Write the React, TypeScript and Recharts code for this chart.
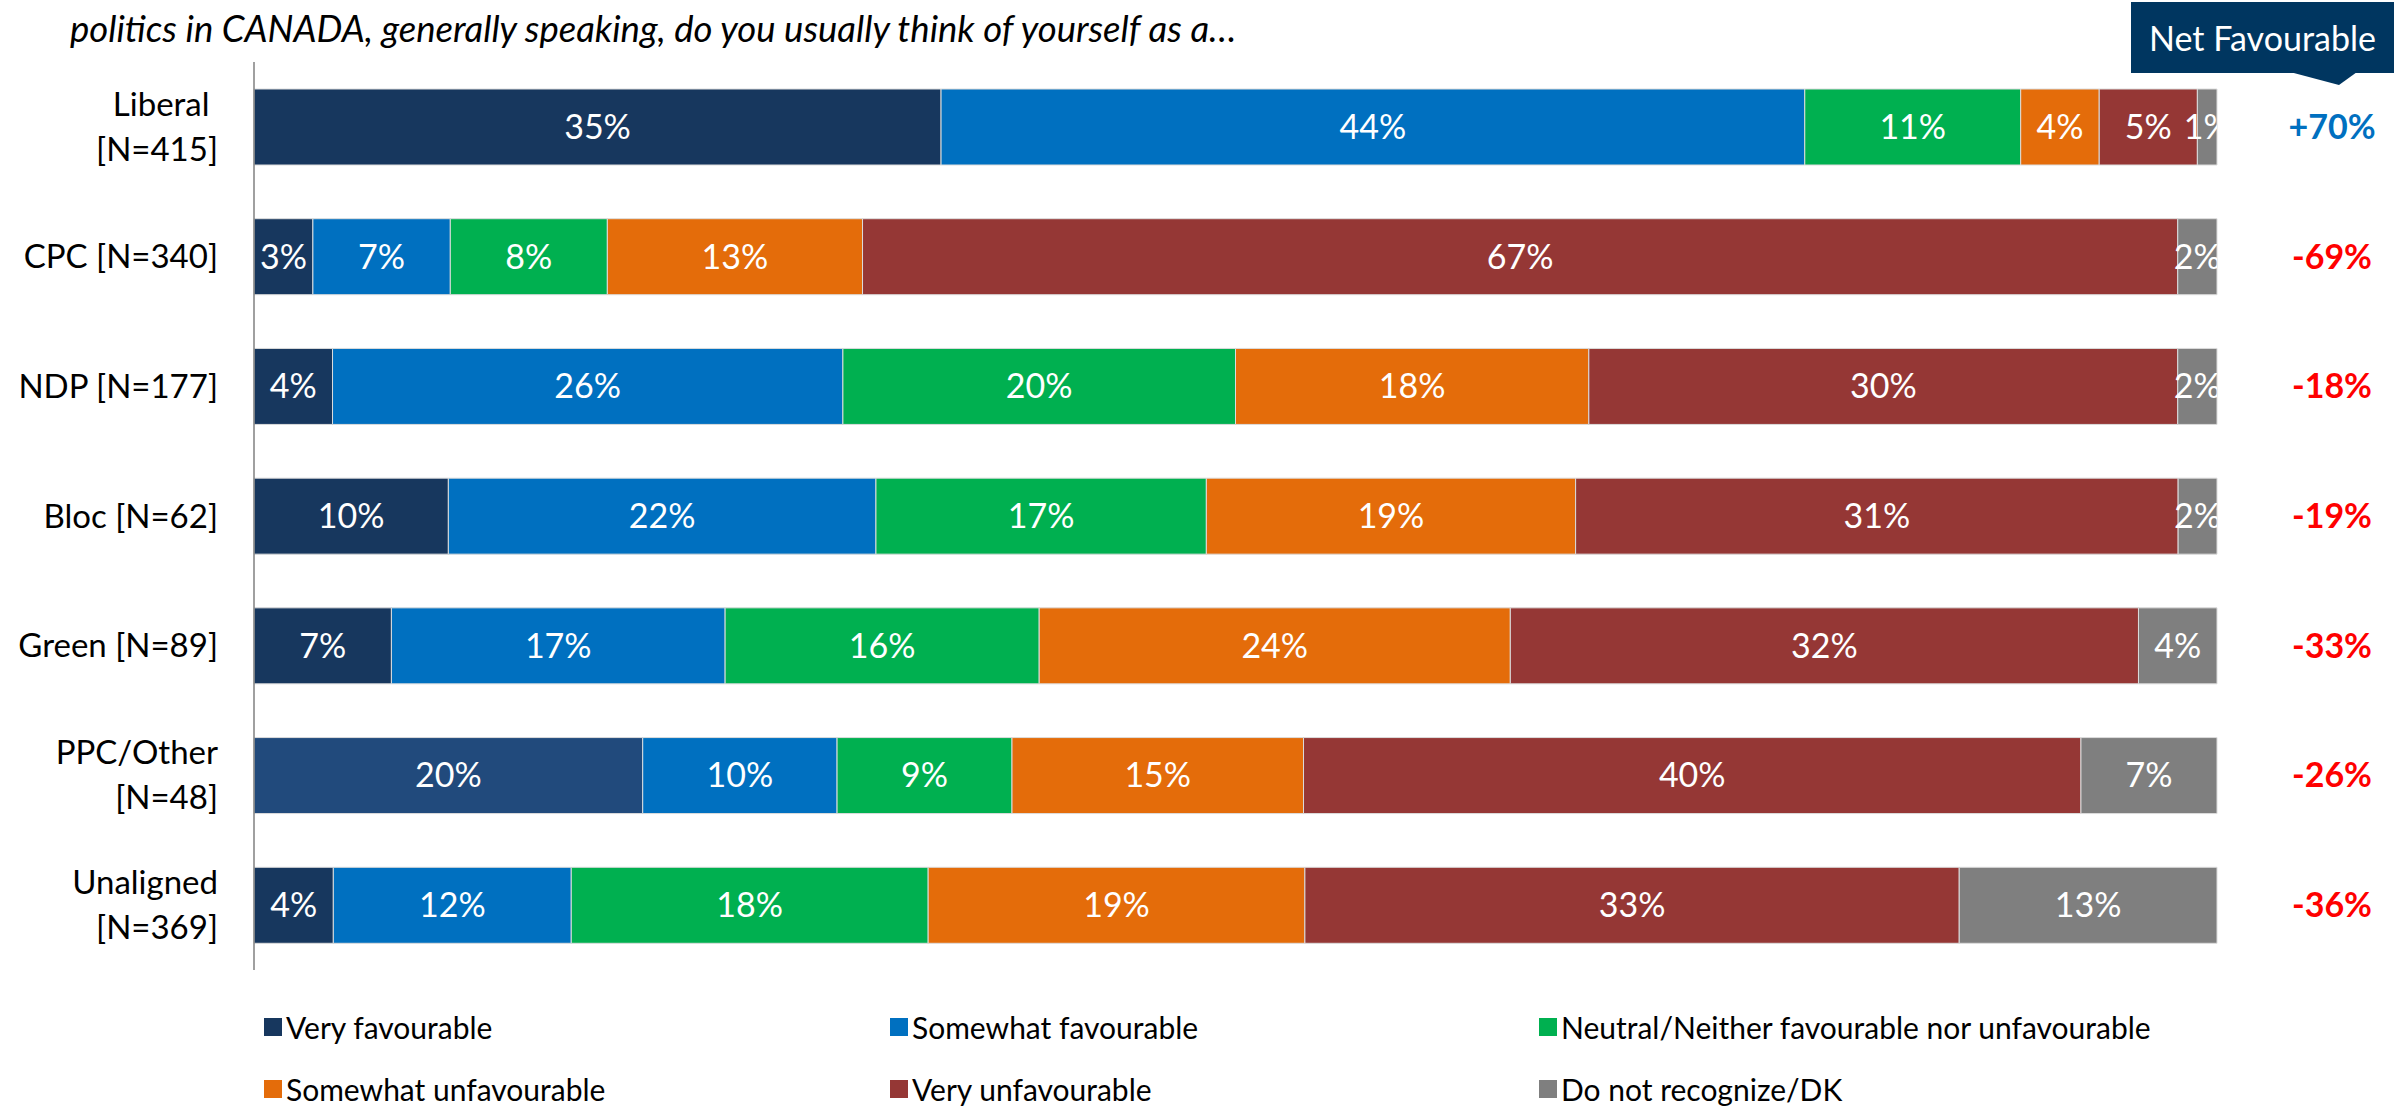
import React from 'react';
import { BarChart, Bar, XAxis, YAxis, LabelList, Cell, Legend } from 'recharts';

const categories = ['Liberal \n[N=415]', 'CPC [N=340]', 'NDP [N=177]', 'Bloc [N=62]', 'Green [N=89]', 'PPC/Other\n[N=48]', 'Unaligned\n[N=369]'];

const veryFav = [35, 3, 4, 10, 7, 20, 4];
const somewhatFav = [44, 7, 26, 22, 17, 10, 12];
const neutral = [11, 8, 20, 17, 16, 9, 18];
const somewhatUnfav = [4, 13, 18, 19, 24, 15, 19];
const veryUnfav = [5, 67, 30, 31, 32, 40, 33];
const dontKnow = [1, 2, 2, 2, 4, 7, 13];
const netFavourable = [70, -69, -18, -19, -33, -26, -36];

const seriesNames = [
    'Very favourable',
    'Somewhat favourable',
    'Neutral/Neither favourable nor unfavourable',
    'Somewhat unfavourable',
    'Very unfavourable',
    'Do not recognize/DK',
];

const FONT = 'Lato, "Open Sans", sans-serif';
const COLORS = ['#17375E', '#0070C0', '#00B050', '#E46C0A', '#953735', '#7F7F7F'];
const PPC_DARK = '#214A7C';

const rows = categories.map((name, i) => ({
    name,
    vf: veryFav[i],
    sf: somewhatFav[i],
    ne: neutral[i],
    su: somewhatUnfav[i],
    vu: veryUnfav[i],
    dk: dontKnow[i],
}));

const CategoryTick = (props: any) => {
    const { x, y, payload } = props;
    const lines = String(payload.value).split('\n');
    const lh = 45;
    const start = y - ((lines.length - 1) * lh) / 2;
    return (
        <text x={x} y={start} textAnchor="end" fill="#000" fontSize={33} fontFamily={FONT} style={{ whiteSpace: 'pre' }}>
            {lines.map((l, i) => (
                <tspan key={i} x={x} y={start + i * lh} dy="0.35em">{l}</tspan>
            ))}
        </text>
    );
};

// labels of the last segment can spill past the bar end, so clip them there
const makeLabel = (values: number[], clip: boolean) => (props: any) => {
    const { viewBox, index } = props;
    if (!viewBox || index == null) return null;
    const v = values[index];
    const cx = viewBox.x + viewBox.width / 2;
    const cy = viewBox.y + viewBox.height / 2;
    const id = `lblclip-${index}`;
    return (
        <g>
            {clip && (
                <defs>
                    <clipPath id={id}>
                        <rect x={viewBox.x - 300} y={viewBox.y} width={viewBox.width + 300} height={viewBox.height} />
                    </clipPath>
                </defs>
            )}
            <text
                x={cx}
                y={cy}
                dy="0.35em"
                textAnchor="middle"
                fill="#fff"
                fontSize={34}
                fontFamily={FONT}
                clipPath={clip ? `url(#${id})` : undefined}
            >
                {v}%
            </text>
        </g>
    );
};

const NetLabel = (props: any) => {
    const { viewBox, index } = props;
    if (!viewBox || index == null) return null;
    const v = netFavourable[index];
    return (
        <text
            x={viewBox.x + viewBox.width + 115}
            y={viewBox.y + viewBox.height / 2}
            dy="0.35em"
            textAnchor="middle"
            fill={v > 0 ? '#0070C0' : '#FF0000'}
            fontSize={34}
            fontWeight={700}
            fontFamily={FONT}
        >
            {v > 0 ? `+${v}%` : `${v}%`}
        </text>
    );
};

const legendPos = [
    { x: 264, y: 57 },
    { x: 890, y: 57 },
    { x: 1539, y: 57 },
    { x: 264, y: 119 },
    { x: 890, y: 119 },
    { x: 1539, y: 119 },
];

const LegendContent = () => (
    <div style={{ position: 'relative', width: 2394, height: 137, fontFamily: FONT, fontSize: 30 }}>
        {seriesNames.map((n, i) => (
            <div
                key={n}
                style={{ position: 'absolute', left: legendPos[i].x, top: legendPos[i].y - 20, height: 40, display: 'flex', alignItems: 'center', whiteSpace: 'nowrap' }}
            >
                <span style={{ display: 'inline-block', width: 18, height: 18, background: COLORS[i], marginRight: 4 }} />
                <span style={{ color: '#000' }}>{n}</span>
            </div>
        ))}
    </div>
);

export default function App() {
    const keys = ['vf', 'sf', 'ne', 'su', 'vu', 'dk'];
    const values = [veryFav, somewhatFav, neutral, somewhatUnfav, veryUnfav, dontKnow];
    return (
        <div style={{ position: 'absolute', left: 0, top: 0, width: 2394, height: 1107, background: '#fff', overflow: 'hidden' }}>
            <div
                style={{ position: 'absolute', left: 70, top: 10, fontFamily: FONT, fontStyle: 'italic', fontSize: 36.5, lineHeight: 1, color: '#000', whiteSpace: 'nowrap' }}
            >
                politics in CANADA, generally speaking, do you usually think of yourself as a…
            </div>
            <div
                style={{ position: 'absolute', left: 2131, top: 2, width: 263, height: 71, background: '#003660', color: '#fff', fontFamily: FONT, fontSize: 34, display: 'flex', alignItems: 'center', justifyContent: 'center', boxSizing: 'border-box', whiteSpace: 'nowrap' }}
            >
                Net Favourable
            </div>
            <svg style={{ position: 'absolute', left: 0, top: 0 }} width={2394} height={100}>
                <polygon points="2290,72 2357,72 2339,85" fill="#003660" />
            </svg>
            <div style={{ position: 'absolute', left: 0, top: 0 }}>
                <BarChart
                    width={2394}
                    height={1107}
                    data={rows}
                    layout="vertical"
                    stackOffset="expand"
                    margin={{ top: 62, right: 177, bottom: 0, left: 0 }}
                    barSize={76}
                >
                    <XAxis type="number" hide domain={[0, 1]} />
                    <YAxis
                        type="category"
                        dataKey="name"
                        width={254}
                        axisLine={{ stroke: '#808080', strokeWidth: 1.5 }}
                        tickLine={false}
                        tickSize={0}
                        tickMargin={36}
                        tick={<CategoryTick />}
                        interval={0}
                    />
                    <Legend verticalAlign="bottom" align="left" wrapperStyle={{ left: 0, width: 2394 }} content={<LegendContent />} />
                    {keys.map((k, si) => (
                        <Bar
                            key={k}
                            dataKey={k}
                            name={seriesNames[si]}
                            stackId="a"
                            fill={COLORS[si]}
                            stroke="#dcdcdc"
                            strokeWidth={1}
                            isAnimationActive={false}
                        >
                            {si === 0 && rows.map((r, i) => <Cell key={i} fill={i === 5 ? PPC_DARK : COLORS[0]} />)}
                            <LabelList dataKey={k} content={makeLabel(values[si], si === 5)} />
                            {si === 5 && <LabelList dataKey={k} content={<NetLabel />} />}
                        </Bar>
                    ))}
                </BarChart>
            </div>
        </div>
    );
}
